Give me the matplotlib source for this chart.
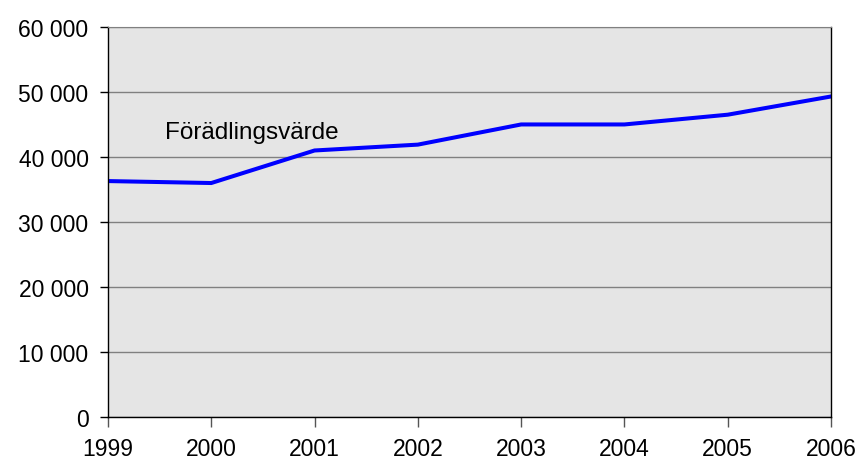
import matplotlib
matplotlib.use("Agg")
import matplotlib.pyplot as plt
from matplotlib.ticker import FuncFormatter

years = [1999, 2000, 2001, 2002, 2003, 2004, 2005, 2006]
value_added = [36300, 36000, 41000, 41900, 45000, 45000, 46500, 49300]
series_label = "Förädlingsvärde"
y_ticks = [0, 10000, 20000, 30000, 40000, 50000, 60000]

plt.rcParams["font.family"] = ["Liberation Sans", "DejaVu Sans"]
plt.rcParams["font.size"] = 16.5

fig, ax = plt.subplots(figsize=(8.61, 4.64), dpi=100)
fig.subplots_adjust(left=0.1254, right=0.9652, top=0.940, bottom=0.0985)

ax.set_facecolor("#e5e5e5")
ax.plot(years, value_added, color="#0000ff", linewidth=2.9, solid_joinstyle="miter")

ax.set_xlim(years[0], years[-1])
ax.set_ylim(0, 60000)
ax.set_xticks(years)
ax.set_yticks(y_ticks)
ax.yaxis.set_major_formatter(
    FuncFormatter(lambda v, p: f"{int(v):,}".replace(",", " "))
)
ax.grid(True, axis="y", color="#808080", linewidth=1.0)
ax.set_axisbelow(True)

ax.tick_params(axis="y", direction="out", length=6, width=1, pad=8, labelsize=16.5)
ax.tick_params(axis="x", direction="out", length=7, width=1, color="#555555",
               pad=7, labelsize=16.5)
for side in ["left", "bottom", "right"]:
    ax.spines[side].set_color("black")
    ax.spines[side].set_linewidth(1.0)
ax.spines["top"].set_color("#808080")

ax.text(1999.55, 42850, series_label, fontsize=17.5, va="baseline", ha="left")

plt.savefig("out.png", dpi=100)
